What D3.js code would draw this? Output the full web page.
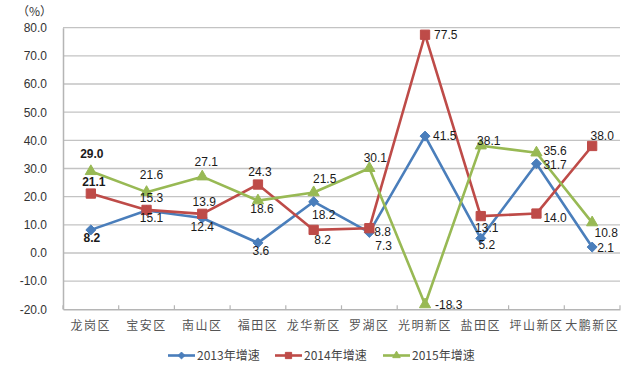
<!DOCTYPE html>
<html><head><meta charset="utf-8">
<script src="https://cdn.jsdelivr.net/npm/d3@7"></script>
<style>
html,body{margin:0;padding:0;background:#fff;}
svg{display:block;}
</style></head>
<body>
<script>
const categories = ["龙岗区","宝安区","南山区","福田区","龙华新区","罗湖区","光明新区","盐田区","坪山新区","大鹏新区"];
const seriesNames = ["2013年增速","2014年增速","2015年增速"];
const values2013 = [8.2,15.1,12.4,3.6,18.2,7.3,41.5,5.2,31.7,2.1];
const values2014 = [21.1,15.3,13.9,24.3,8.2,8.8,77.5,13.1,14.0,38.0];
const values2015 = [29.0,21.6,27.1,18.6,21.5,30.1,-18.3,38.1,35.6,10.8];
const yTicks = [-20,-10,0,10,20,30,40,50,60,70,80];
const unitLabel = "（%）";

// label placement styles: [anchor, dx, dy(baseline)]
const place2013 = [["middle",1,12],["middle",5,12],["middle",0,13],["middle",3,12],["middle",10,17],["start",6,18],["start",8,4],["middle",6,11],["start",7,5],["start",5,5]];
const place2014 = [["middle",3,-8],["middle",5,-8],["middle",2,-8],["middle",2,-9],["middle",9,14],["start",5,8],["start",9,4],["middle",6,16],["start",7,8],["middle",10,-6]];
const place2015 = [["middle",1,-13],["middle",5,-13],["middle",4,-11],["middle",4,12],["middle",11,-9],["middle",6,-6],["start",10,4],["middle",8,-1],["start",7,2],["middle",14,14]];

const colors = ["#4a7ebb","#be4b48","#98b954"];
const W = 637, H = 368;
const plot = {left: 63, right: 620, top: 27.7, bottom: 309.3};
const fmt = d => d3.format(".1f")(d).replace("\u2212", "-");

const svg = d3.select("body").append("svg").attr("width", W).attr("height", H);

const x = d3.scaleBand().domain(categories).range([plot.left, plot.right]);
const y = d3.scaleLinear().domain([-20, 80]).range([plot.bottom, plot.top]);

// gridlines
svg.append("g").selectAll("line").data(yTicks.filter(t => t > -20)).join("line")
  .attr("x1", plot.left).attr("x2", plot.right)
  .attr("y1", d => y(d)).attr("y2", d => y(d))
  .attr("stroke", "#c3c3c3").attr("stroke-width", 1.3);

// y axis
const yAxis = svg.append("g").attr("transform", `translate(${plot.left},0)`)
  .call(d3.axisLeft(y).tickValues(yTicks).tickFormat(fmt).tickSize(0).tickPadding(16));
yAxis.select(".domain").attr("stroke", "#b5b5b5").attr("stroke-width", 1.5);
yAxis.selectAll("text").attr("font-family", "Liberation Sans, Arial, sans-serif").attr("font-size", 12).attr("fill", "#333");

// x axis
const xAxis = svg.append("g").attr("transform", `translate(0,${plot.bottom})`)
  .call(d3.axisBottom(x).tickSize(0).tickPadding(12));
xAxis.select(".domain").attr("stroke", "#b5b5b5").attr("stroke-width", 1.5);
xAxis.selectAll("text").attr("font-family", "Noto Sans CJK SC, sans-serif").attr("font-size", 12)
  .attr("fill", "#555").attr("letter-spacing", "1.5px");
// boundary tick marks (inside)
const bounds = categories.map(c => x(c)).concat([plot.right]);
svg.append("g").selectAll("line").data(bounds).join("line")
  .attr("x1", d => d).attr("x2", d => d)
  .attr("y1", plot.bottom).attr("y2", plot.bottom - 4)
  .attr("stroke", "#b5b5b5").attr("stroke-width", 1.2);

svg.append("text").attr("x", 17).attr("y", 16).text(unitLabel)
  .attr("font-family", "Noto Sans CJK SC, sans-serif").attr("font-size", 12).attr("fill", "#333");

const cx = c => x(c) + x.bandwidth() / 2;
const allSeries = [values2013, values2014, values2015];
const places = [place2013, place2014, place2015];
const line = d3.line().x((d, i) => cx(categories[i])).y(d => y(d));

function drawMarker(g, k, px, py, size) {
  const sym = d3.symbol().type([d3.symbolDiamond2, d3.symbolSquare2, d3.symbolTriangle2][k]).size(size);
  g.append("path").attr("d", sym()).attr("transform", `translate(${px},${py})`)
    .attr("fill", colors[k]).attr("stroke", colors[k]).attr("stroke-width", 1);
}

allSeries.forEach((vals, k) => {
  const g = svg.append("g");
  g.append("path").datum(vals).attr("d", line).attr("fill", "none")
    .attr("stroke", colors[k]).attr("stroke-width", 2.6).attr("stroke-linejoin", "round");
  vals.forEach((v, i) => drawMarker(g, k, cx(categories[i]), y(v), [64, 110, 90][k]));
});

// labels
allSeries.forEach((vals, k) => {
  svg.append("g").selectAll("text").data(vals).join("text")
    .attr("x", (d, i) => cx(categories[i]) + places[k][i][1])
    .attr("y", (d, i) => y(d) + places[k][i][2])
    .attr("text-anchor", (d, i) => places[k][i][0])
    .attr("font-family", "Liberation Sans, Arial, sans-serif").attr("font-size", 12)
    .attr("font-weight", (d, i) => i === 0 ? "bold" : "normal")
    .attr("fill", "#1a1a1a")
    .text(d => fmt(d));
});

// legend
const legendX = [168, 275, 383];
const legendY = 355.5;
seriesNames.forEach((name, k) => {
  const g = svg.append("g").attr("transform", `translate(${legendX[k]},${legendY})`);
  g.append("line").attr("x1", 0).attr("x2", 27).attr("y1", 0).attr("y2", 0)
    .attr("stroke", colors[k]).attr("stroke-width", 2.6);
  drawMarker(g, k, 13.5, 0, [30, 50, 40][k]);
  g.append("text").attr("x", 29).attr("y", 4.5).text(name)
    .attr("font-family", "Noto Sans CJK SC, sans-serif").attr("font-size", 12).attr("fill", "#444");
});
</script>
</body></html>
